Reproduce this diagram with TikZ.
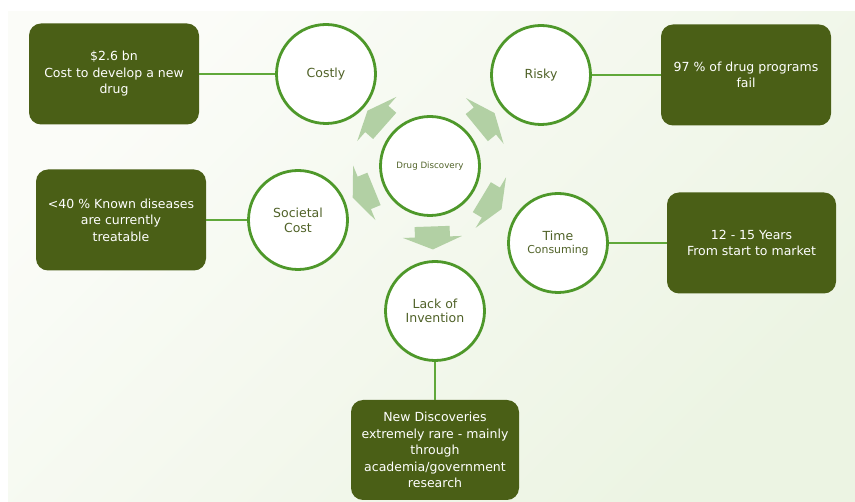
\documentclass[tikz,border=0pt]{standalone}
\usepackage{fontspec}
\setmainfont{DejaVu Sans}
\usetikzlibrary{calc}

\definecolor{boxgreen}{RGB}{74,95,22}
\definecolor{circgreen}{RGB}{78,152,42}
\definecolor{linkgreen}{RGB}{96,168,58}
\definecolor{labelgreen}{RGB}{80,98,40}
\definecolor{arrowfill}{RGB}{178,208,164}
\definecolor{bgtop}{RGB}{251,252,248}
\definecolor{bgbottom}{RGB}{236,244,227}

\tikzset{
  circ/.style={circle, draw=circgreen, line width=2.8pt, fill=white,
    minimum size=99pt, inner sep=0pt, align=center, text=labelgreen,
    font=\fontsize{12.5}{15}\selectfont},
  factbox/.style={rectangle, rounded corners=12pt, fill=boxgreen, text=white,
    align=center, minimum width=170pt, minimum height=101pt, inner sep=0pt,
    font=\fontsize{12.5}{16.5}\selectfont},
  link/.style={draw=linkgreen, line width=2.5pt},
  radarrow/.pic={
    \fill[arrowfill] (-11.5,-17.5) -- (-1,-17.5) -- (-1,-29.5) -- (11.5,0)
      -- (-1,29.5) -- (-1,17.5) -- (-11.5,17.5) -- cycle;
  }
}

\begin{document}
\begin{tikzpicture}[x=1pt, y=-1pt]
  % page frame and soft green backdrop
  \useasboundingbox (0,0) rectangle (855,502);
  \fill[white] (0,0) rectangle (855,502);
  \shade[top color=bgtop, bottom color=bgbottom, shading angle=45]
    (8,12) rectangle (855,502);

  % hub and the five challenges around it
  \node[circ] (dd) at (430,166) {\fontsize{8.7}{10}\selectfont Drug Discovery};
  \node[circ] (costly) at (326,74) {Costly};
  \node[circ] (risky) at (541,75) {Risky};
  \node[circ, font=\fontsize{12.5}{15}\selectfont] (societal) at (298,220) {Societal\\Cost};
  \node[circ, font=\fontsize{12.5}{13}\selectfont] (timec) at (558,243)
    {Time\\{\fontsize{10.9}{13}\selectfont Consuming}};
  \node[circ, font=\fontsize{12.5}{14}\selectfont] (lack) at (435,311) {Lack of\\Invention};

  % fact boxes
  \node[factbox] (fcost) at (114,74) {\$2.6 bn\\Cost to develop a new\\drug};
  \node[factbox] (frisk) at (746,75) {97 \% of drug programs\\fail};
  \node[factbox] (fsoc) at (121,220) {<40 \% Known diseases\\are currently\\treatable};
  \node[factbox, minimum width=169pt] (ftime) at (751.5,243) {12 - 15 Years\\From start to market};
  \node[factbox, minimum width=168pt, minimum height=100pt] (finv) at (435,450)
    {New Discoveries\\extremely rare - mainly\\through\\academia/government\\research};

  % connectors between challenges and facts
  \draw[link] (fcost.east) -- (costly.west);
  \draw[link] (risky.east) -- (frisk.west);
  \draw[link] (fsoc.east) -- (societal.west);
  \draw[link] (timec.east) -- (ftime.west);
  \draw[link] (lack.south) -- (finv.north);

  % block arrows diverging from the hub
  \foreach \t in {costly,risky,timec,lack,societal}{
    \path let \p1=($(\t)-(dd)$), \n1={atan2(\y1,\x1)} in
      pic[rotate=\n1] at ($(dd)!72pt!(\t)$) {radarrow};
  }
\end{tikzpicture}
\end{document}
